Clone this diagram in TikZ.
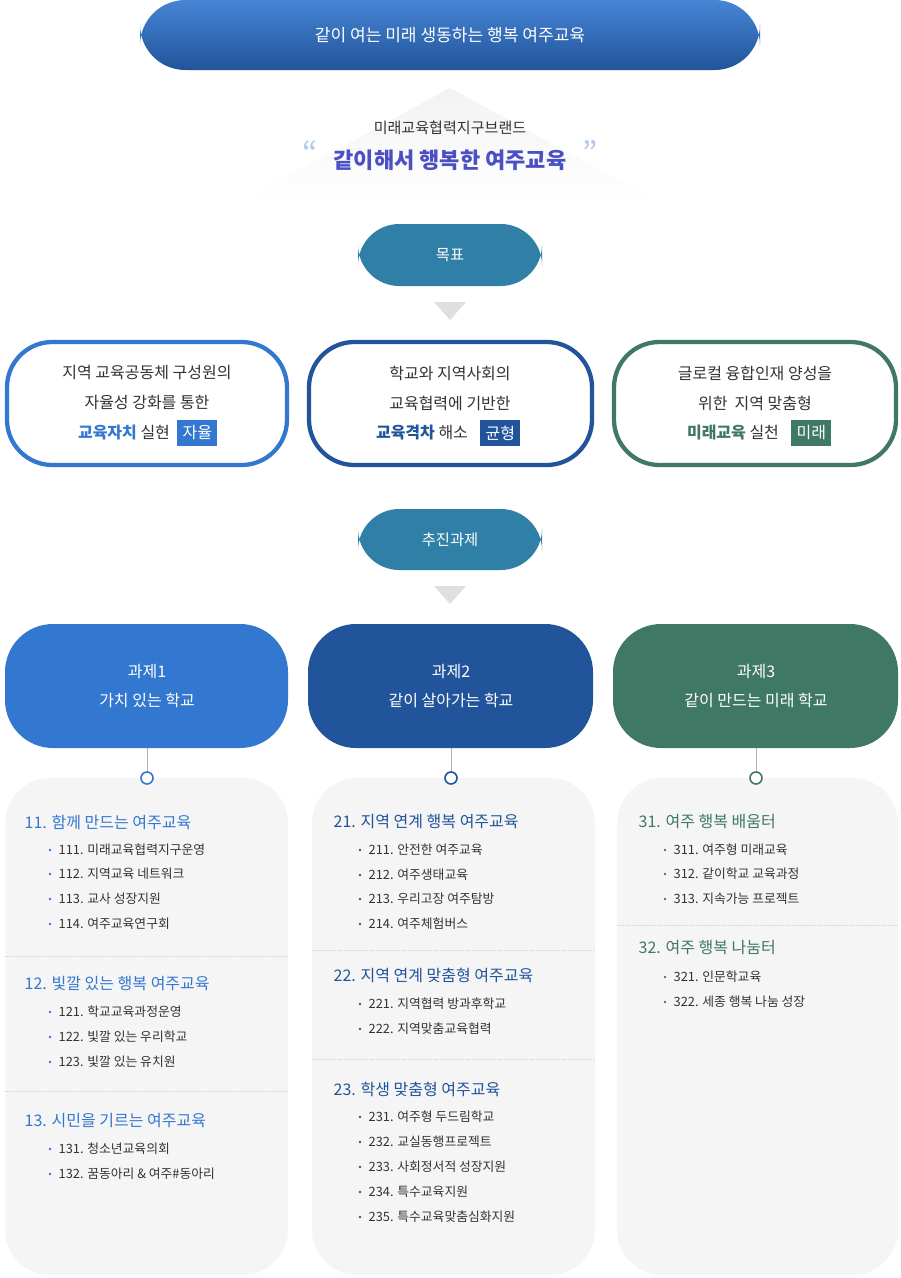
\documentclass[tikz,border=0pt]{standalone}
\usepackage{fontspec}
\setmainfont{Noto Sans CJK KR}
\usetikzlibrary{shapes.geometric}
\definecolor{cA}{HTML}{3277D0}
\definecolor{cB}{HTML}{21549A}
\definecolor{cC}{HTML}{3F7864}
\definecolor{teal}{HTML}{2F7FA6}
\definecolor{brand}{HTML}{4A50C4}
\definecolor{txt}{HTML}{333333}
\definecolor{panel}{HTML}{F5F5F5}
\tikzset{
 fs/.style={font=\fontsize{#1}{#1}\selectfont},
 pill/.style={fill=teal,rounded corners=31,text=white,fs=11.5},
 goal/.style={draw=#1,line width=3.2pt,fill=white,rounded corners=34},
 tag/.style={fill=#1,text=white,fs=12,inner sep=2pt,minimum height=20,anchor=west},
 task/.style={fill=#1,rounded corners=36},
 pan/.style={fill=panel,rounded corners=34},
 head/.style={anchor=west,fs=12,text=#1},
 item/.style={anchor=west,fs=9.6,text=txt},
 sep/.style={draw=gray!40,densely dotted,line width=0.6pt},
 dotc/.style={circle,draw=#1,line width=1.2pt,fill=white,minimum size=9,inner sep=0},
 tri/.style={fill=gray!25,draw=none},
}
\newcommand{\bul}[3]{\fill[#1] (#2-6,#3) circle (1.3);}
\begin{document}
\begin{tikzpicture}[x=0.75pt,y=-0.75pt]
\fill[white] (0,0) rectangle (900,1278);
% top
\shade[top color=cA!90!white,bottom color=cB,rounded corners=34] (140,0) rectangle (760,70);
\node[text=white,fs=12.8] (top) at (450,35) {같이 여는 미래 생동하는 행복 여주교육};
% brand triangle
\shade[top color=gray!10,bottom color=white] (450,88) -- (655,200) -- (245,200) -- cycle;
\node[fs=11.3,text=txt] (br1) at (450,128) {미래교육협력지구브랜드};
\node[fs=16.5,text=brand,font=\bfseries] (br2) at (450,160) {\fontsize{16.5}{16.5}\selectfont 같이해서 행복한 여주교육};
\node[text=cA!40,fs=24] (q1) at (310,153) {“};
\node[text=cA!40,fs=24] (q2) at (590,153) {”};
% goal pill
\fill[teal,rounded corners=31] (358,224) rectangle (542,286);
\node[text=white,fs=11.5] (goal) at (450,255) {목표};
\fill[gray!25] (434,302) -- (466,302) -- (450,320) -- cycle;
% goal boxes
\draw[goal=cA] (7,342) rectangle (287,465);
\draw[goal=cB] (309,342) rectangle (592,465);
\draw[goal=cC] (614,342) rectangle (896,465);
\node[fs=12,text=txt] (g1a) at (147,373) {지역 교육공동체 구성원의};
\node[fs=12,text=txt] (g1b) at (147,403) {자율성 강화를 통한};
\node[fs=12,text=txt] (g1c) at (124,433) {\textcolor{cA}{\bfseries 교육자치} 실현};
\node[tag=cA] (t1) at (177,433) {\,자율\,};
\node[fs=12,text=txt] (g2a) at (450,373) {학교와 지역사회의};
\node[fs=12,text=txt] (g2b) at (450,403) {교육협력에 기반한};
\node[fs=12,text=txt] (g2c) at (422,433) {\textcolor{cB}{\bfseries 교육격차} 해소};
\node[tag=cB] (t2) at (480,433) {\,균형\,};
\node[fs=12,text=txt] (g3a) at (755,373) {글로컬 융합인재 양성을};
\node[fs=12,text=txt] (g3b) at (755,403) {위한\ \ 지역 맞춤형};
\node[fs=12,text=txt] (g3c) at (733,433) {\textcolor{cC}{\bfseries 미래교육} 실천};
\node[tag=cC] (t3) at (791,433) {\,미래\,};
% tasks pill
\fill[teal,rounded corners=31] (358,509) rectangle (542,570);
\node[text=white,fs=11.5] (tasks) at (450,540) {추진과제};
\fill[gray!25] (434,586) -- (466,586) -- (450,604) -- cycle;
% task boxes
\fill[task=cA] (5,624) rectangle (288,748);
\fill[task=cB] (308,624) rectangle (593,748);
\fill[task=cC] (613,624) rectangle (898,748);
\node[text=white,fs=12,align=center] (k1) at (147,686) {과제1\\[10pt]가치 있는 학교};
\node[text=white,fs=12,align=center] (k2) at (451,686) {과제2\\[10pt]같이 살아가는 학교};
\node[text=white,fs=12,align=center] (k3) at (756,686) {과제3\\[10pt]같이 만드는 미래 학교};
\coordinate (b1) at (147,748); \coordinate (b2) at (451,748); \coordinate (b3) at (756,748);
% panels
\fill[pan] (5,778) rectangle (288,1275);
\fill[pan] (312,778) rectangle (595,1275);
\fill[pan] (617,778) rectangle (898,1275);
\node[dotc=cA] (c1) at (147,778) {};
\node[dotc=cB] (c2) at (451,778) {};
\node[dotc=cC] (c3) at (756,778) {};
\draw[gray!60] (b1) -- (c1); \draw[gray!60] (b2) -- (c2); \draw[gray!60] (b3) -- (c3);
% column 1
\node[head=cA] (h11) at (20,822) {11. 함께 만드는 여주교육};
\foreach \y/\t in {850/111. 미래교육협력지구운영,874/112. 지역교육 네트워크,899/113. 교사 성장지원,924/114. 여주교육연구회,1012/121. 학교교육과정운영,1037/122. 빛깔 있는 우리학교,1062/123. 빛깔 있는 유치원,1149/131. 청소년교육의회,1174/132. 꿈동아리 \& 여주\#동아리}{\bul{cA}{56}{\y}\node[item] at (54,\y) {\t};}
\draw[sep] (5,956) -- (288,956);
\node[head=cA] (h12) at (20,984) {12. 빛깔 있는 행복 여주교육};
\draw[sep] (5,1091) -- (288,1091);
\node[head=cA] (h13) at (20,1121) {13. 시민을 기르는 여주교육};
% column 2
\node[head=cB] (h21) at (329,822) {21. 지역 연계 행복 여주교육};
\foreach \y/\t in {850/211. 안전한 여주교육,875/212. 여주생태교육,899/213. 우리고장 여주탐방,924/214. 여주체험버스,1004/221. 지역협력 방과후학교,1029/222. 지역맞춤교육협력,1117/231. 여주형 두드림학교,1142/232. 교실동행프로젝트,1167/233. 사회정서적 성장지원,1192/234. 특수교육지원,1217/235. 특수교육맞춤심화지원}{\bul{cB}{366}{\y}\node[item] at (364,\y) {\t};}
\draw[sep] (312,950) -- (595,950);
\node[head=cB] (h22) at (329,975) {22. 지역 연계 맞춤형 여주교육};
\draw[sep] (312,1059) -- (595,1059);
\node[head=cB] (h23) at (329,1089) {23. 학생 맞춤형 여주교육};
% column 3
\node[head=cC] (h31) at (634,822) {31. 여주 행복 배움터};
\foreach \y/\t in {850/311. 여주형 미래교육,874/312. 같이학교 교육과정,899/313. 지속가능 프로젝트,977/321. 인문학교육,1002/322. 세종 행복 나눔 성장}{\bul{cC}{671}{\y}\node[item] at (669,\y) {\t};}
\draw[sep] (617,925) -- (898,925);
\node[head=cC] (h32) at (634,948) {32. 여주 행복 나눔터};
\end{tikzpicture}
\end{document}
